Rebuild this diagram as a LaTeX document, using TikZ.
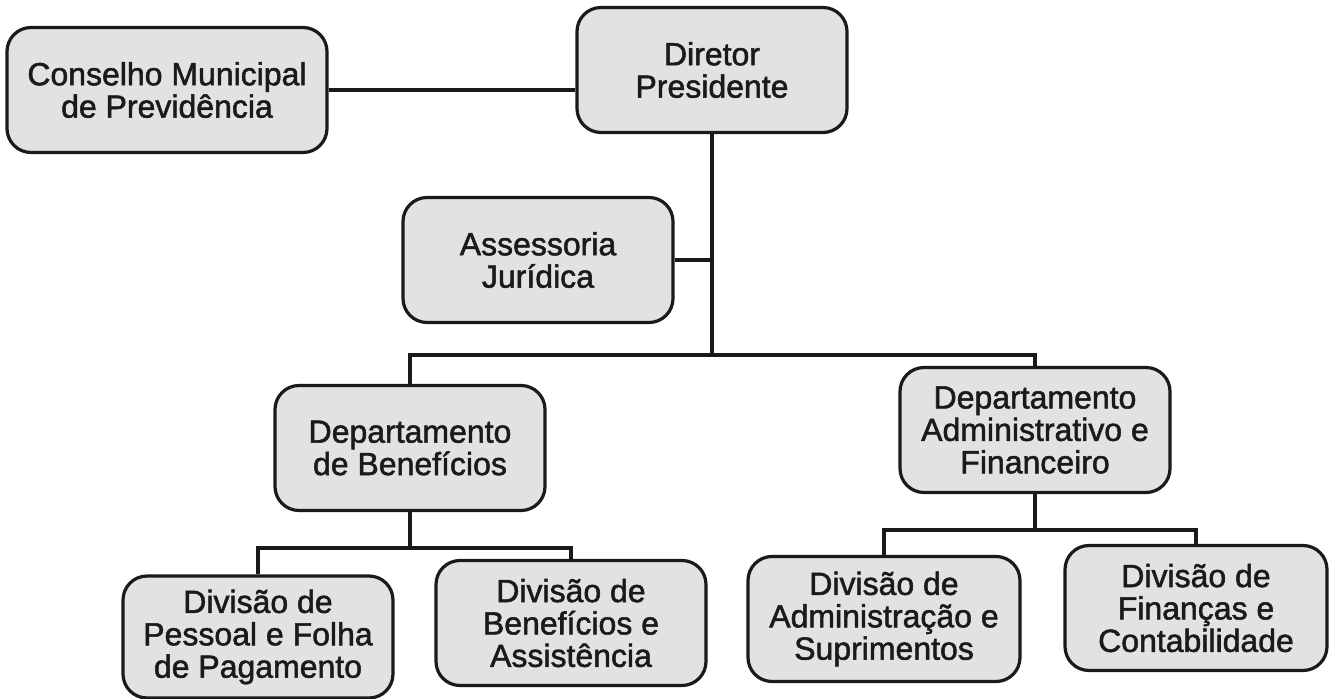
\documentclass[tikz,border=0pt]{standalone}
\usepackage{fontspec}
\setmainfont{Liberation Sans}[BoldFont={Liberation Sans},BoldFeatures={FakeBold=1.6}]
\usepackage{tikz}
\usetikzlibrary{positioning,calc}
\definecolor{colorBoxfill}{HTML}{E2E2E2}
\definecolor{colorBoxstroke}{HTML}{1A1A1A}

\begin{document}
\begin{tikzpicture}[
    x=0.5pt, y=-0.5pt,
    box/.style={rectangle, draw=colorBoxstroke, fill=colorBoxfill, line width=1.6pt, rounded corners=12pt, align=center, minimum width=135pt, minimum height=62.5pt, inner sep=2pt, text=colorBoxstroke, font=\fontsize{16}{16.2}\selectfont\bfseries},
    widebox/.style={box, minimum width=160pt},
    link/.style={line width=2.1pt, draw=colorBoxstroke}
]
    \useasboundingbox (0,0) rectangle (1331,699);

    % Nodes
    \node[widebox] (conselho) at (167,90) {Conselho Municipal\\de Previdência};
    \node[box] (diretor) at (712,70) {Diretor\\Presidente};
    \node[box] (assessoria) at (538,260) {Assessoria\\Jurídica};

    \node[box] (depBen) at (410,448) {Departamento\\de Benefícios};
    \node[box] (depAdm) at (1035,430) {Departamento\\Administrativo e\\Financeiro};

    \node[box, minimum height=61pt] (divPessoal) at (258,637) {Divisão de\\Pessoal e Folha\\de Pagamento};
    \node[box] (divBen) at (571,623) {Divisão de\\Benefícios e\\Assistência};
    \node[box, minimum width=136pt] (divAdm) at (884,619) {Divisão de\\Administração e\\Suprimentos};
    \node[box, minimum width=131pt] (divFin) at (1196,608) {Divisão de\\Finanças e\\Contabilidade};

    % Bus points
    \coordinate (busTop) at (712,355);
    \coordinate (busBen) at (410,548);
    \coordinate (busAdm) at (1035,530);

    % Edges
    \draw[link] (conselho.east) -- (conselho.east -| diretor.west);
    \draw[link] (diretor.south) -- (busTop);
    \draw[link] (assessoria.east) -- (assessoria.east -| diretor.south);
    \draw[link] (depBen.north) |- (busTop) -| (depAdm.north);

    \draw[link] (depBen.south) -- (busBen);
    \draw[link] (divPessoal.north) |- (busBen) -| (divBen.north);

    \draw[link] (depAdm.south) -- (busAdm);
    \draw[link] (divAdm.north) |- (busAdm) -| (divFin.north);

\end{tikzpicture}
\end{document}
